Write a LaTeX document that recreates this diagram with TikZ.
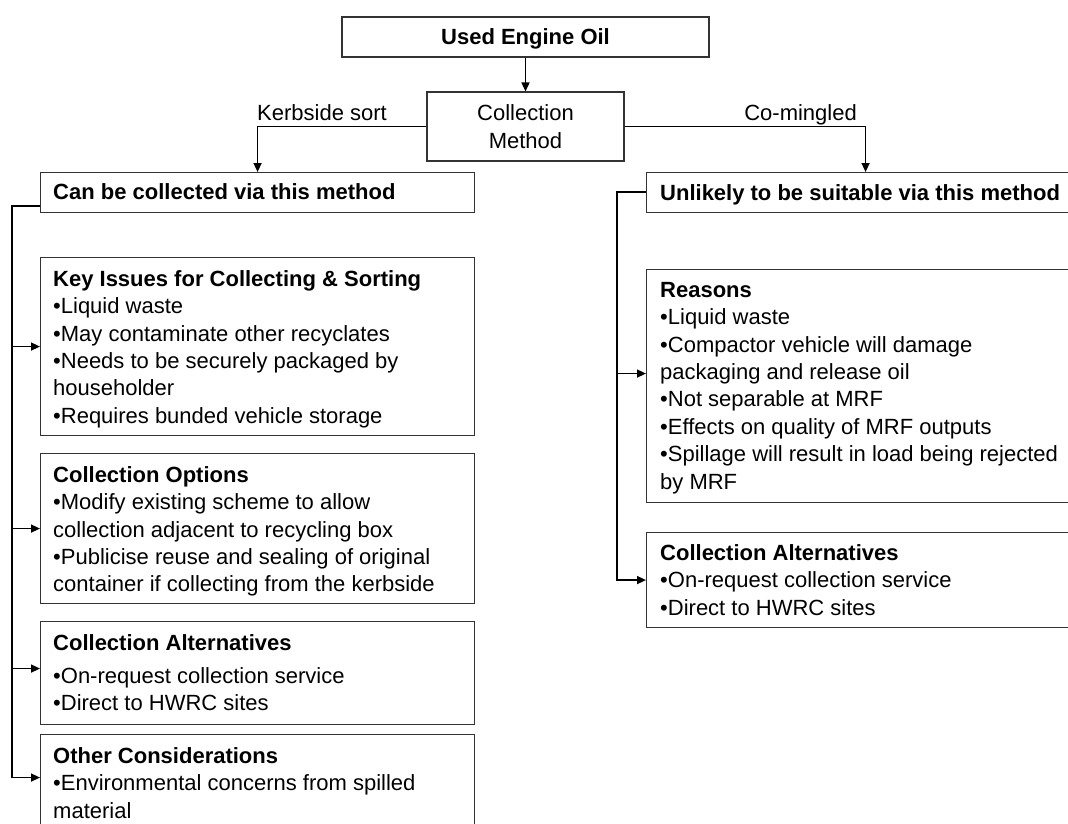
\documentclass[tikz,border=0pt]{standalone}
\usepackage{fontspec}
\setmainfont{Liberation Sans}
\usetikzlibrary{arrows.meta}
\tikzset{
	panel/.style={draw=black!80, line width=1.1pt, rectangle, inner sep=0pt, anchor=north west},
	paneltext/.style={anchor=north west, inner sep=0pt, align=left},
	link/.style={line width=1.5pt, black},
	feed/.style={link, -{Triangle[length=9pt,width=8pt]}}
}
\begin{document}
\begin{tikzpicture}[x=1pt,y=-1pt]
		\tikzstyle{every node}+=[font=\fontsize{22}{27.4}\selectfont]
		\useasboundingbox (0,0) rectangle (1068,824);
		\clip (0,0) rectangle (1068,824);
		\node [panel, anchor=center, minimum width=367pt, minimum height=40pt, text depth=0pt] (oil) at (525.5,37) {\textbf{Used Engine Oil}};
		\node [panel, anchor=center, minimum width=197pt, minimum height=69pt, align=center] (method) at (525.5,126.5) {Collection\\Method};
		\node [panel, minimum width=434pt, minimum height=40pt] (canbox) at (40,172) {};
		\node [panel, minimum width=438pt, minimum height=40pt] (unlbox) at (646,172) {};
		\node [panel, minimum width=434pt, minimum height=178pt] (keybox) at (40,257) {};
		\node [panel, minimum width=434pt, minimum height=150pt] (optbox) at (40,453) {};
		\node [panel, minimum width=434pt, minimum height=103pt] (altbox) at (40,621) {};
		\node [panel, minimum width=434pt, minimum height=100pt] (othbox) at (40,734) {};
		\node [panel, minimum width=438pt, minimum height=233pt] (reasonbox) at (646,269) {};
		\node [panel, minimum width=438pt, minimum height=95pt] (raltbox) at (646,532) {};
		\node [anchor=base west, inner sep=0pt] (kerblabel) at (257,121) {Kerbside sort};
		\node [anchor=base east, inner sep=0pt] (minglelabel) at (857,120.5) {Co-mingled};
		\node [paneltext] (cantext) at ([xshift=13pt]canbox.north west) {\rule{0pt}{27pt}\textbf{Can be collected via this method}};
		\node [paneltext] (unltext) at ([xshift=14pt]unlbox.north west) {\rule{0pt}{28pt}\textbf{Unlikely to be suitable via this method}};
		\node [paneltext] (keytext) at ([xshift=13pt]keybox.north west) {\rule{0pt}{29pt}\textbf{Key Issues for Collecting \& Sorting}\\
			•Liquid waste\\
			•May contaminate other recyclates\\
			•Needs to be securely packaged by\\
			householder\\
			•Requires bunded vehicle storage};
		\node [paneltext] (opttext) at ([xshift=13pt]optbox.north west) {\rule{0pt}{29pt}\textbf{Collection Options}\\
			•Modify existing scheme to allow\\
			collection adjacent to recycling box\\
			•Publicise reuse and sealing of original\\
			container if collecting from the kerbside};
		\node [paneltext] (alttext) at ([xshift=13pt]altbox.north west) {\rule{0pt}{29pt}\textbf{Collection Alternatives}\\[5.6pt]
			•On-request collection service\\
			•Direct to HWRC sites};
		\node [paneltext] (othtext) at ([xshift=13pt]othbox.north west) {\rule{0pt}{29pt}\textbf{Other Considerations}\\
			•Environmental concerns from spilled\\
			material};
		\node [paneltext] (reasontext) at ([xshift=14pt]reasonbox.north west) {\rule{0pt}{28pt}\textbf{Reasons}\\
			•Liquid waste\\
			•Compactor vehicle will damage\\
			packaging and release oil\\
			•Not separable at MRF\\
			•Effects on quality of MRF outputs\\
			•Spillage will result in load being rejected\\
			by MRF};
		\node [paneltext] (ralttext) at ([xshift=14pt]raltbox.north west) {\rule{0pt}{28pt}\textbf{Collection Alternatives}\\
			•On-request collection service\\
			•Direct to HWRC sites};
		\draw [feed] (oil) -- (method);
		\draw [feed] (method.west) -| (canbox.north);
		\draw [feed] (method.east) -| (unlbox.north);
		\coordinate (lspine) at (12,206);
		\coordinate (rspine) at (617,192);
		\draw [feed] (lspine -| canbox.west) -- (lspine) |- ([yshift=7pt]othbox.west);
		\draw [feed] (lspine) |- (keybox.west);
		\draw [feed] (lspine) |- (optbox.west);
		\draw [feed] (lspine) |- ([yshift=4.5pt]altbox.west);
		\draw [feed] (rspine -| unlbox.west) -- (rspine) |- (raltbox.west);
		\draw [feed] (rspine) |- ([yshift=12.5pt]reasonbox.west);
\end{tikzpicture}
\end{document}
